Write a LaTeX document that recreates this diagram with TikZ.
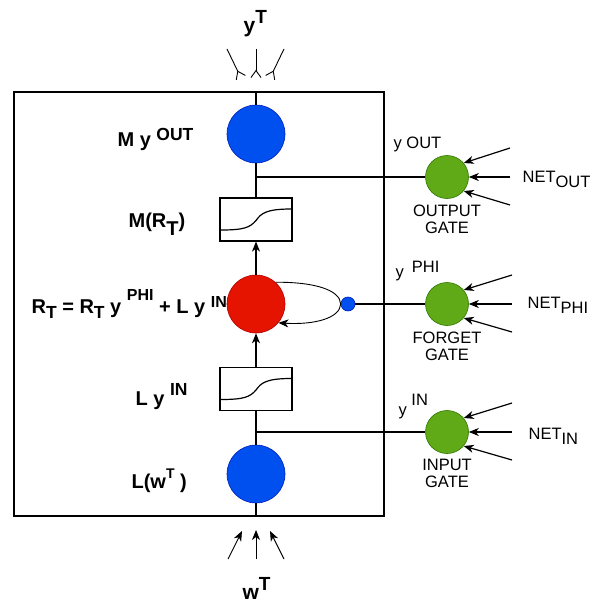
\documentclass[tikz,border=0pt]{standalone}
\usepackage{fontspec}
\setmainfont{Liberation Sans}
\usetikzlibrary{arrows.meta}
\definecolor{myblue}{HTML}{0050EF}
\definecolor{mybluebd}{HTML}{001DBC}
\definecolor{myred}{HTML}{E51400}
\definecolor{myredbd}{HTML}{B20000}
\definecolor{mygreen}{HTML}{60A917}
\definecolor{mygreenbd}{HTML}{2D7600}
\newcommand\bigf{\fontsize{20}{22}\selectfont\bfseries}
\newcommand\smf{\fontsize{17.5}{19}\selectfont\bfseries}
\newcommand\tnf{\fontsize{16}{17}\selectfont\bfseries}
\newcommand\gf{\fontsize{16.5}{18}\selectfont}
\newcommand\sigcurve[1]{\draw[shift={(#1.center)}] (-35,10.5) .. controls (-12,10.5) and (-6,8) .. (0,1) .. controls (5,-6) and (10,-10.5) .. (35,-10.5);}
\begin{document}
\begin{tikzpicture}[x=1pt,y=-1pt,line width=1.2pt,
  lbl/.style={anchor=base west,inner sep=0pt},
  gcaption/.style={anchor=base,inner sep=0pt},
  bigcirc/.style={circle,minimum size=58pt,inner sep=0pt},
  gatecirc/.style={circle,minimum size=43pt,inner sep=0pt,fill=mygreen,draw=mygreenbd,line width=0.6pt},
  sigbox/.style={draw,minimum width=72pt,minimum height=43pt,inner sep=0pt},
  arr/.style={-{Stealth[length=10pt,width=8pt,inset=3pt]}},
  fork/.style={-{Straight Barb[reversed,length=7pt,width=10pt]}}]
\useasboundingbox (0,0) rectangle (592,602);
% main cell
\node[draw,minimum width=370pt,minimum height=424pt,inner sep=0pt] (cell) at (199,304) {};
% central column
\node[bigcirc,fill=myblue,draw=mybluebd,line width=0.6pt] (mo) at (256,134) {};
\node[sigbox] (msig) at (256,219.5) {};
\node[bigcirc,fill=myred,draw=myredbd,line width=0.6pt] (rc) at (256,304) {};
\node[sigbox] (lsig) at (256,389) {};
\node[bigcirc,fill=myblue,draw=mybluebd,line width=0.6pt] (lw) at (256,474) {};
\node[circle,minimum size=14pt,inner sep=0pt,fill=myblue,draw=mybluebd,line width=0.6pt] (dot) at (348,304) {};
\sigcurve{msig}
\sigcurve{lsig}
% gates
\node[gatecirc] (og) at (447,177) {};
\node[gatecirc] (fg) at (447,304) {};
\node[gatecirc] (ig) at (447,432) {};
% junctions
\coordinate (j1) at (256,177);
\coordinate (j2) at (256,432);
% connectors
\draw (cell.north -| mo) -- (mo);
\draw (mo) -- (msig);
\draw (j1) -- (og);
\draw[arr] (rc) -- (msig);
\draw[arr] (lsig) -- (rc);
\draw (lw) -- (lsig);
\draw (j2) -- (ig);
\draw (lw) -- (cell.south -| lw);
\draw (dot) -- (fg);
\draw[arr,line width=0.9pt] (rc.48) .. controls (315,282) and (340,290) .. (dot.west) .. controls (340,318) and (315,325) .. (rc.-40);
% gate inputs
\coordinate (oa) at (510,148); \coordinate (ob) at (510,177); \coordinate (oc) at (510,205);
\coordinate (fa) at (512,275); \coordinate (fb) at (512,304); \coordinate (fc) at (512,332);
\coordinate (ia) at (512,403); \coordinate (ib) at (512,432); \coordinate (ic) at (512,460);
\draw[arr] (oa) -- (og.40);
\draw[arr] (ob) -- (og);
\draw[arr] (oc) -- (og.-40);
\draw[arr] (fa) -- (fg.40);
\draw[arr] (fb) -- (fg);
\draw[arr] (fc) -- (fg.-40);
\draw[arr] (ia) -- (ig.40);
\draw[arr] (ib) -- (ig);
\draw[arr] (ic) -- (ig.-40);
% top outputs
\coordinate (t1) at (227,49); \coordinate (t2) at (256,49); \coordinate (t3) at (284,49);
\coordinate (t1e) at (241,78); \coordinate (t2e) at (256,78); \coordinate (t3e) at (270,78);
\draw[fork,line width=0.9pt] (t1) -- (t1e);
\draw[fork,line width=0.9pt] (t2) -- (t2e);
\draw[fork,line width=0.9pt] (t3) -- (t3e);
% bottom inputs
\coordinate (b1) at (228,559); \coordinate (b2) at (256,559); \coordinate (b3) at (284,559);
\coordinate (b1e) at (242,531); \coordinate (b2e) at (256,530); \coordinate (b3e) at (270,531);
\draw[arr,line width=0.9pt] (b1) -- (b1e);
\draw[arr,line width=0.9pt] (b2) -- (b2e);
\draw[arr,line width=0.9pt] (b3) -- (b3e);
% labels
\node[lbl] (lmy) at (117,146) {\bigf M y \raisebox{6pt}{\smf OUT}};
\node[lbl] (lmr) at (128,227) {\bigf M(R\raisebox{-8pt}{T})};
\node[lbl] (lrt) at (31,313) {\bigf R\raisebox{-5pt}{\smf T} = R\raisebox{-5pt}{\smf T} y \raisebox{13pt}{\tnf PHI} + L y \raisebox{6pt}{\tnf IN}};
\node[lbl] (lly) at (135,405) {\bigf L y \raisebox{10pt}{\smf IN}};
\node[lbl] (llw) at (131,488) {\bigf L(w\raisebox{10pt}{\fontsize{14}{14}\selectfont\bfseries T} )};
\node[lbl] (yt) at (243,33) {\fontsize{21}{21}\selectfont\bfseries y\raisebox{9pt}{\fontsize{19}{19}\selectfont T}};
\node[lbl] (wt) at (242,599) {\fontsize{21}{21}\selectfont\bfseries w\raisebox{9pt}{\fontsize{19}{19}\selectfont T}};
% gate labels
\node[lbl] (yout) at (393,148) {\gf y OUT};
\node[lbl] (yphi) at (395,277) {\gf y\hspace{8pt}\raisebox{5pt}{PHI}};
\node[lbl] (yin) at (398,415) {\gf y \raisebox{10pt}{IN}};
\node[gcaption] (ogl1) at (447,216) {\gf OUTPUT};
\node[gcaption] (ogl2) at (447,233) {\gf GATE};
\node[gcaption] (fgl1) at (447,343) {\gf FORGET};
\node[gcaption] (fgl2) at (447,360) {\gf GATE};
\node[gcaption] (igl1) at (447,470) {\gf INPUT};
\node[gcaption] (igl2) at (447,487) {\gf GATE};
\node[lbl] (nout) at (522,182) {\gf NET\raisebox{-5pt}{OUT}};
\node[lbl] (nphi) at (527,308) {\gf NET\raisebox{-5pt}{PHI}};
\node[lbl] (nin) at (528,439) {\gf NET\raisebox{-5pt}{IN}};
\end{tikzpicture}
\end{document}
